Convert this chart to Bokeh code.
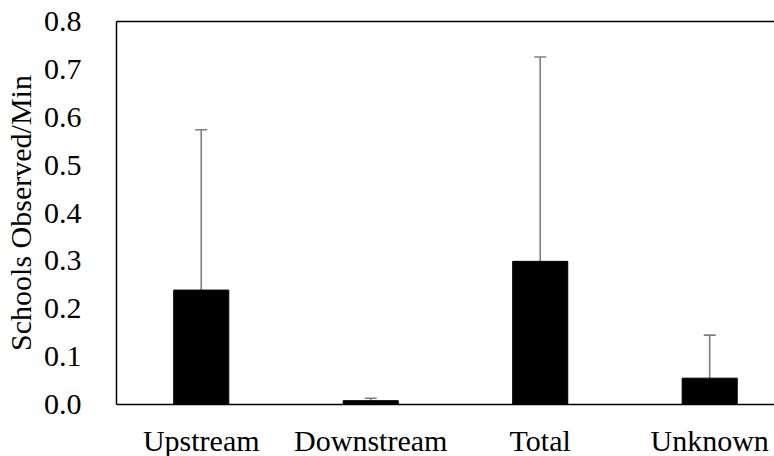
from bokeh.plotting import figure
from bokeh.models import (ColumnDataSource, Range1d, FixedTicker, LinearAxis,
                          PrintfTickFormatter, Whisker)
from bokeh.embed import file_html
from bokeh.resources import INLINE

categories = ["Upstream", "Downstream", "Total", "Unknown"]
means = [0.239, 0.008, 0.299, 0.055]
errors = [0.335, 0.005, 0.427, 0.090]
y_ticks = [0.0, 0.1, 0.2, 0.3, 0.4, 0.5, 0.6, 0.7, 0.8]

xs = [i + 0.5 for i in range(len(categories))]
src = ColumnDataSource(dict(
    x=xs, top=means,
    lower=[m - e for m, e in zip(means, errors)],
    upper=[m + e for m, e in zip(means, errors)],
))

FONT = "Liberation Serif"
FS = "30px"

ya = LinearAxis(
    ticker=FixedTicker(ticks=y_ticks),
    formatter=PrintfTickFormatter(format="%.1f"),
    major_tick_line_color=None, minor_tick_line_color=None,
    axis_line_color="black", axis_line_width=1.5,
    major_label_standoff=29,
    major_label_text_font=FONT, major_label_text_font_size=FS,
    major_label_text_color="black",
    axis_label="Schools Observed/Min",
    axis_label_text_font=FONT, axis_label_text_font_size=FS,
    axis_label_text_font_style="normal", axis_label_text_color="black",
    axis_label_standoff=4,
)
xa = LinearAxis(
    ticker=FixedTicker(ticks=xs),
    major_label_overrides={x: c for x, c in zip(xs, categories)},
    major_tick_line_color=None, minor_tick_line_color=None,
    axis_line_color="black", axis_line_width=1.5,
    major_label_standoff=13,
    major_label_text_font=FONT, major_label_text_font_size=FS,
    major_label_text_color="black",
)
top = LinearAxis(ticker=FixedTicker(ticks=[]), major_tick_line_color=None,
                 minor_tick_line_color=None, axis_line_color="black",
                 axis_line_width=1.5, major_label_text_font_size="0px")

p = figure(frame_width=661, frame_height=383, output_backend="svg",
           toolbar_location=None, x_axis_location=None, y_axis_location=None,
           x_range=Range1d(0, 3.9), y_range=Range1d(0, 0.8),
           min_border_left=113, min_border_right=0, min_border_top=21,
           min_border_bottom=52)
p.add_layout(ya, "left")
p.add_layout(xa, "below")
p.add_layout(top, "above")
p.outline_line_color = None
p.grid.grid_line_color = None
p.background_fill_color = "white"
p.border_fill_color = "white"

p.vbar(x="x", top="top", bottom=0, width=0.325, source=src,
       fill_color="black", line_color="black")

w = Whisker(base="x", lower="lower", upper="upper", source=src,
            line_color="#7f7f7f", line_width=1.6)
w.upper_head.size = 12
w.upper_head.line_color = "#7f7f7f"
w.upper_head.line_width = 1.6
w.lower_head = None
p.add_layout(w)

open("out.html", "w").write(file_html(p, INLINE))
